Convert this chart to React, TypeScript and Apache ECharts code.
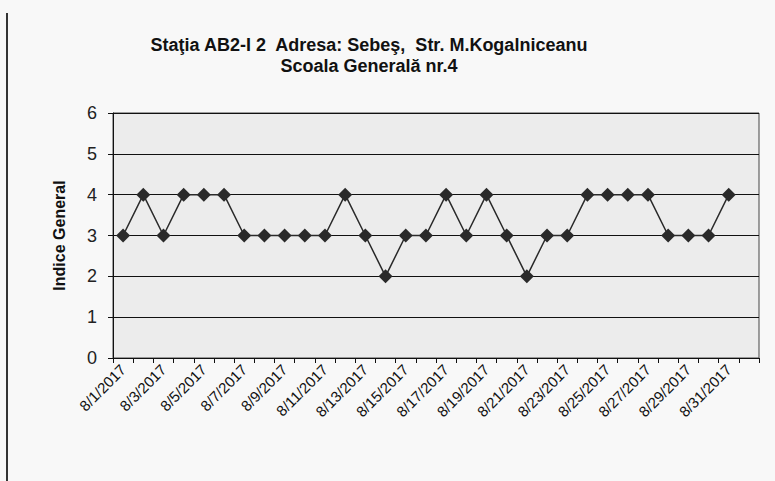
import React, { useEffect, useRef } from "react";
import * as echarts from "echarts";

const dates: string[] = [
  "8/1/2017", "8/2/2017", "8/3/2017", "8/4/2017", "8/5/2017", "8/6/2017", "8/7/2017", "8/8/2017",
  "8/9/2017", "8/10/2017", "8/11/2017", "8/12/2017", "8/13/2017", "8/14/2017", "8/15/2017", "8/16/2017",
  "8/17/2017", "8/18/2017", "8/19/2017", "8/20/2017", "8/21/2017", "8/22/2017", "8/23/2017", "8/24/2017",
  "8/25/2017", "8/26/2017", "8/27/2017", "8/28/2017", "8/29/2017", "8/30/2017", "8/31/2017", "9/1/2017",
];

const indiceGeneral: (number | null)[] = [
  3, 4, 3, 4, 4, 4, 3, 3, 3, 3, 3, 4, 3, 2, 3, 3,
  4, 3, 4, 3, 2, 3, 3, 4, 4, 4, 4, 3, 3, 3, 4, null,
];

const titleLine1 = "Staţia AB2-I 2  Adresa: Sebeş,  Str. M.Kogalniceanu";
const titleLine2 = "Scoala Generală nr.4";
const yAxisName = "Indice General";

export default function App() {
  const ref = useRef<HTMLDivElement>(null);
  useEffect(() => {
    if (!ref.current) return;
    const chart = echarts.init(ref.current, undefined, { renderer: "svg" });
    chart.setOption({
      animation: false,
      backgroundColor: "#f8f8f8",
      textStyle: { fontFamily: "Liberation Sans, Arial, sans-serif" },
      title: {
        text: titleLine1 + "\n" + titleLine2,
        left: 364,
        top: 29,
        textAlign: "center",
        textStyle: {
          fontSize: 18,
          fontWeight: "bold",
          color: "#111",
          lineHeight: 21,
          fontFamily: "Liberation Sans, Arial, sans-serif",
        },
      },
      graphic: [
        {
          type: "line",
          shape: { x1: 7, y1: 13, x2: 7, y2: 481 },
          style: { stroke: "#333", lineWidth: 2 },
        },
      ],
      grid: {
        left: 113,
        right: 16,
        top: 113,
        bottom: 123,
        show: true,
        backgroundColor: "#ececec",
        borderColor: "#444",
        borderWidth: 1,
      },
      xAxis: {
        type: "category",
        data: dates,
        boundaryGap: true,
        axisLine: { lineStyle: { color: "#111", width: 1 } },
        axisTick: { show: true, interval: 0, length: 5, lineStyle: { color: "#111" } },
        axisLabel: {
          interval: 1,
          rotate: 45,
          fontSize: 15,
          color: "#111",
          margin: 9,
        },
      },
      yAxis: {
        type: "value",
        min: 0,
        max: 6,
        interval: 1,
        name: yAxisName,
        nameLocation: "middle",
        nameGap: 46,
        nameTextStyle: { fontSize: 16, fontWeight: "bold", color: "#111" },
        axisLine: { show: true, lineStyle: { color: "#111", width: 1 } },
        axisTick: { show: true, length: 5, lineStyle: { color: "#111" } },
        axisLabel: { fontSize: 18, color: "#222", margin: 16 },
        splitLine: { show: true, lineStyle: { color: "#111", width: 1 } },
      },
      series: [
        {
          type: "line",
          data: indiceGeneral,
          symbol: "diamond",
          symbolSize: 14,
          showAllSymbol: true,
          lineStyle: { color: "#2a2a2a", width: 1.5 },
          itemStyle: { color: "#2a2a2a" },
        },
      ],
    });
    return () => chart.dispose();
  }, []);
  return (
    <div
      ref={ref}
      style={{ position: "fixed", left: 0, top: 0, width: 775, height: 481 }}
    />
  );
}
